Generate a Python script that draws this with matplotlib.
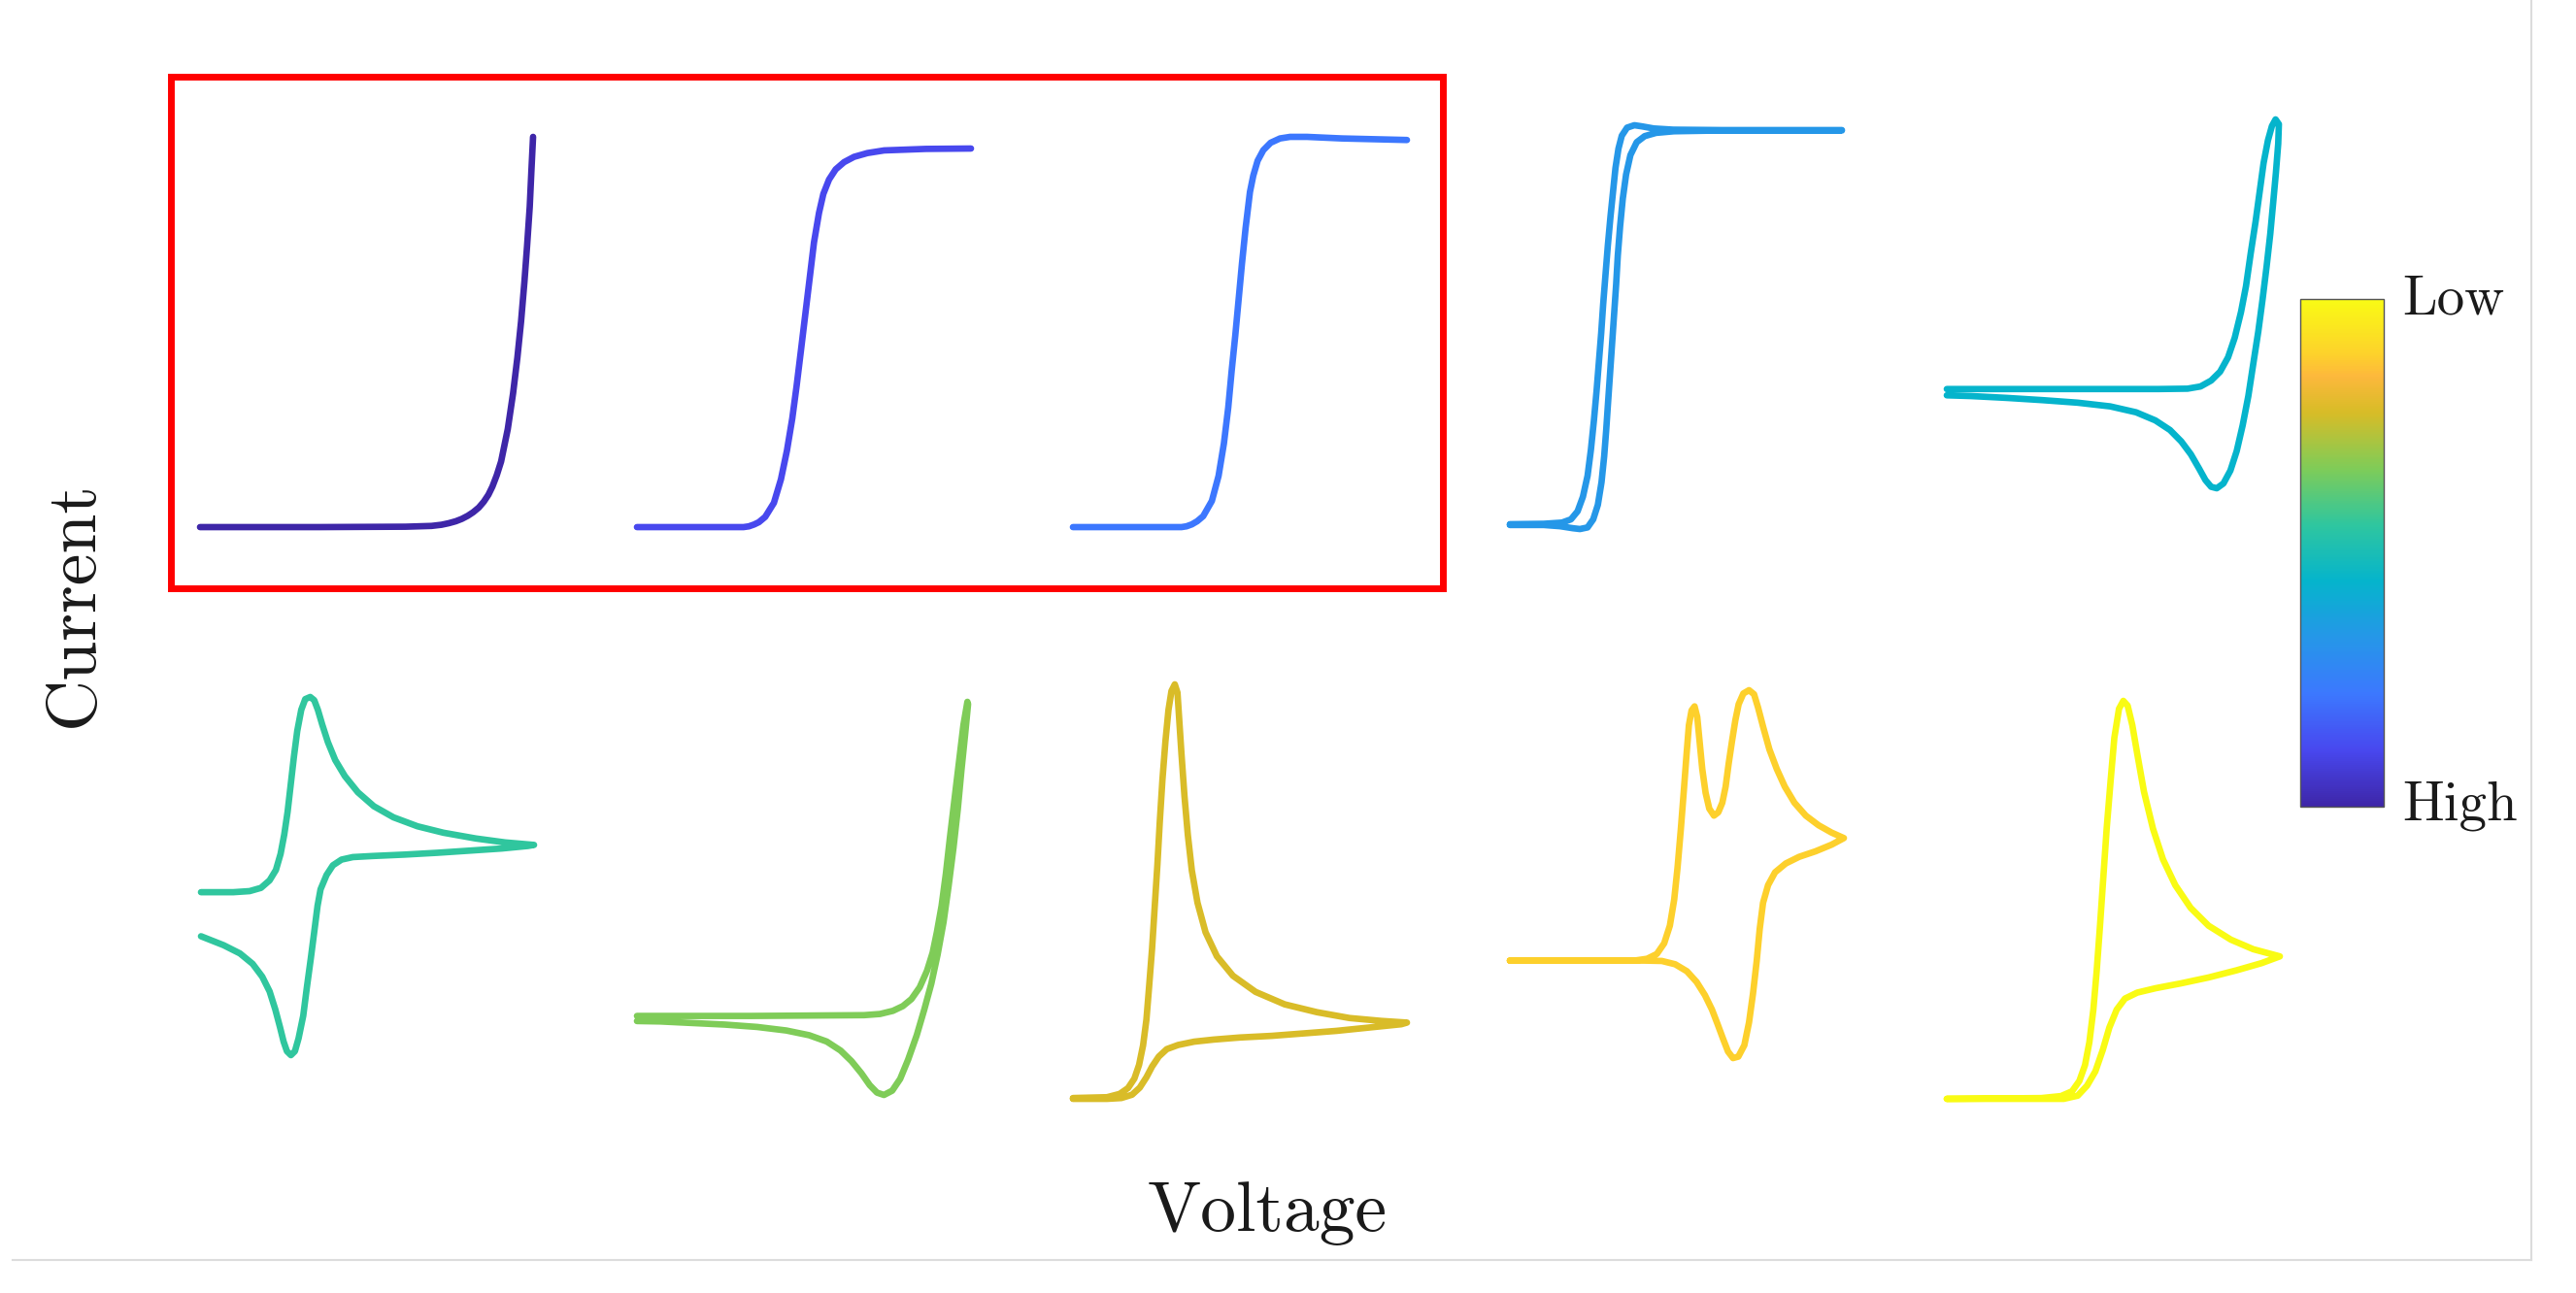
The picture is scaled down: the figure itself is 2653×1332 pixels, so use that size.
import matplotlib.pyplot as plt
from matplotlib.colors import LinearSegmentedColormap
from matplotlib.cm import ScalarMappable
from matplotlib.patches import Rectangle
from matplotlib.lines import Line2D

W, H = 2653, 1332

# parula-like colour map (low index = high rate)
parula_pos = [0.0, 0.111, 0.222, 0.333, 0.444, 0.556, 0.667, 0.778, 0.85, 0.889, 1.0]
parula_hex = ["#3e26a8", "#4848ef", "#3c78fe", "#2597e8", "#05b4cc", "#2fc69f",
              "#7fcc58", "#d8bc27", "#fdb83c", "#fdd02c", "#f9fb14"]

# voltammograms, normalised voltage / current (forward sweep + reverse sweep)
cv1_v = [0, 0.357, 0.617, 0.695, 0.725, 0.747, 0.768, 0.786, 0.804, 0.820, 0.837,
         0.852, 0.866, 0.878, 0.891, 0.904, 0.924, 0.940, 0.953, 0.964, 0.974,
         0.982, 0.990, 0.995, 1.0]
cv1_i = [0, 0, 0.001, 0.003, 0.006, 0.010, 0.015, 0.021, 0.029, 0.038, 0.050,
         0.065, 0.083, 0.104, 0.133, 0.168, 0.251, 0.343, 0.435, 0.527, 0.628,
         0.720, 0.821, 0.913, 1.0]

cv2_v = [0, 0.319, 0.335, 0.351, 0.365, 0.384, 0.410, 0.431, 0.449, 0.465, 0.478,
         0.491, 0.504, 0.517, 0.530, 0.545, 0.558, 0.575, 0.595, 0.620, 0.650,
         0.690, 0.740, 0.865, 1.0]
cv2_i = [0, 0, 0.002, 0.007, 0.013, 0.027, 0.064, 0.126, 0.202, 0.287, 0.373,
         0.467, 0.562, 0.657, 0.752, 0.830, 0.880, 0.918, 0.945, 0.964, 0.978,
         0.988, 0.995, 0.999, 1.0]

cv3_v = [0, 0.325, 0.340, 0.356, 0.372, 0.390, 0.416, 0.436, 0.452, 0.465, 0.475,
         0.486, 0.496, 0.506, 0.517, 0.530, 0.540, 0.553, 0.570, 0.592, 0.620,
         0.650, 0.701, 0.805, 1.0]
cv3_i = [0, 0, 0.002, 0.007, 0.015, 0.028, 0.067, 0.131, 0.214, 0.306, 0.398,
         0.490, 0.582, 0.674, 0.766, 0.858, 0.900, 0.938, 0.965, 0.984, 0.995,
         0.999, 0.999, 0.995, 0.991]

cv4_v = [0, 0.102, 0.151, 0.190, 0.211, 0.234, 0.251, 0.265, 0.276, 0.284, 0.290,
         0.296, 0.302, 0.308, 0.314, 0.320, 0.325, 0.332, 0.340, 0.350, 0.363,
         0.382, 0.406, 0.440, 0.494, 0.638, 1.0] + \
        [1.0, 0.638, 0.492, 0.433, 0.399, 0.375, 0.353, 0.337, 0.327, 0.318, 0.311,
         0.303, 0.295, 0.288, 0.281, 0.275, 0.268, 0.261, 0.253, 0.244, 0.234,
         0.220, 0.204, 0.184, 0.157, 0.102, 0.0]
cv4_i = [0.010, 0.010, 0.007, 0.002, 0.000, 0.004, 0.024, 0.060, 0.116, 0.180, 0.244,
         0.317, 0.389, 0.461, 0.533, 0.605, 0.677, 0.750, 0.818, 0.878, 0.926,
         0.958, 0.973, 0.981, 0.985, 0.987, 0.987] + \
        [0.988, 0.988, 0.989, 0.992, 0.997, 1.000, 0.994, 0.974, 0.942, 0.894, 0.838,
         0.774, 0.702, 0.630, 0.557, 0.485, 0.413, 0.341, 0.268, 0.196, 0.132,
         0.080, 0.044, 0.024, 0.016, 0.013, 0.012]

cv5_v = [0.000, 0.346, 0.638, 0.725, 0.764, 0.796, 0.823, 0.847, 0.867, 0.886, 0.901,
         0.915, 0.930, 0.942, 0.954, 0.967, 0.979, 0.990] + \
        [1.000, 0.998, 0.991, 0.983, 0.974, 0.963, 0.951, 0.938, 0.923, 0.908, 0.891,
         0.873, 0.854, 0.833, 0.813, 0.796, 0.779, 0.760, 0.735, 0.706, 0.672,
         0.628, 0.570, 0.492, 0.394, 0.287, 0.180, 0.073, 0.000]
cv5_i = [0.269, 0.269, 0.269, 0.270, 0.276, 0.292, 0.316, 0.355, 0.408, 0.478, 0.548,
         0.636, 0.724, 0.803, 0.882, 0.943, 0.982, 1.000] + \
        [0.987, 0.934, 0.855, 0.776, 0.689, 0.601, 0.513, 0.425, 0.338, 0.250, 0.171,
         0.101, 0.048, 0.013, 0.000, 0.004, 0.022, 0.053, 0.092, 0.127, 0.158,
         0.184, 0.206, 0.222, 0.232, 0.239, 0.245, 0.250, 0.252]

cv6_v = [0.000, 0.097, 0.146, 0.180, 0.206, 0.225, 0.239, 0.250, 0.260, 0.269, 0.279,
         0.289, 0.301, 0.313, 0.328, 0.340, 0.351, 0.364, 0.381, 0.403, 0.432,
         0.471, 0.519, 0.578, 0.650, 0.728, 0.825, 0.913, 1.000] + \
        [0.981, 0.903, 0.806, 0.709, 0.612, 0.515, 0.456, 0.422, 0.396, 0.377, 0.359,
         0.350, 0.340, 0.330, 0.318, 0.307, 0.293, 0.282, 0.270, 0.258, 0.248,
         0.237, 0.223, 0.206, 0.184, 0.155, 0.117, 0.068, 0.000]
cv6_i = [0.455, 0.455, 0.458, 0.467, 0.488, 0.517, 0.562, 0.616, 0.679, 0.752, 0.833,
         0.905, 0.964, 0.994, 1.000, 0.991, 0.964, 0.923, 0.874, 0.824, 0.779,
         0.734, 0.695, 0.664, 0.639, 0.621, 0.605, 0.594, 0.587] + \
        [0.584, 0.577, 0.571, 0.565, 0.560, 0.556, 0.553, 0.546, 0.530, 0.503, 0.463,
         0.417, 0.344, 0.272, 0.190, 0.110, 0.047, 0.011, 0.000, 0.011, 0.038,
         0.079, 0.128, 0.178, 0.219, 0.255, 0.284, 0.307, 0.332]

cv7_v = [0.000, 0.344, 0.686, 0.734, 0.773, 0.803, 0.829, 0.854, 0.876, 0.893, 0.906,
         0.920, 0.933, 0.945, 0.959, 0.973, 0.986, 0.998] + \
        [1.000, 0.991, 0.980, 0.969, 0.956, 0.941, 0.926, 0.908, 0.889, 0.868, 0.845,
         0.819, 0.795, 0.771, 0.746, 0.725, 0.703, 0.678, 0.648, 0.615, 0.573,
         0.520, 0.451, 0.363, 0.266, 0.168, 0.070, 0.000]
cv7_i = [0.201, 0.201, 0.203, 0.206, 0.214, 0.226, 0.244, 0.274, 0.316, 0.362, 0.415,
         0.481, 0.563, 0.653, 0.752, 0.850, 0.941, 1.000] + \
        [0.994, 0.916, 0.826, 0.727, 0.629, 0.530, 0.440, 0.357, 0.283, 0.218, 0.152,
         0.090, 0.041, 0.011, 0.000, 0.006, 0.025, 0.055, 0.086, 0.113, 0.136,
         0.152, 0.164, 0.173, 0.179, 0.183, 0.187, 0.188]

cv8_v = [0.000, 0.102, 0.140, 0.165, 0.184, 0.198, 0.210, 0.220, 0.228, 0.237, 0.245,
         0.253, 0.260, 0.268, 0.277, 0.286, 0.295, 0.305, 0.313, 0.318, 0.325,
         0.334, 0.344, 0.356, 0.373, 0.397, 0.431, 0.479, 0.547, 0.634, 0.731,
         0.828, 0.924, 1.000] + \
        [0.983, 0.886, 0.789, 0.692, 0.595, 0.499, 0.421, 0.363, 0.315, 0.281, 0.257,
         0.237, 0.220, 0.200, 0.177, 0.145, 0.102, 0.000]
cv8_i = [0.002, 0.004, 0.012, 0.026, 0.049, 0.082, 0.129, 0.191, 0.270, 0.363, 0.465,
         0.566, 0.668, 0.770, 0.863, 0.938, 0.984, 1.000, 0.980, 0.918, 0.832,
         0.730, 0.637, 0.551, 0.473, 0.402, 0.344, 0.297, 0.258, 0.228, 0.209,
         0.195, 0.188, 0.184] + \
        [0.180, 0.172, 0.164, 0.158, 0.152, 0.148, 0.143, 0.138, 0.130, 0.120, 0.102,
         0.078, 0.052, 0.027, 0.010, 0.002, 0.000, 0.000]

cv9_v = [0.000, 0.373, 0.411, 0.440, 0.462, 0.479, 0.492, 0.502, 0.512, 0.521, 0.529,
         0.536, 0.544, 0.553, 0.561, 0.568, 0.576, 0.586, 0.597, 0.611, 0.624,
         0.636, 0.646, 0.655, 0.665, 0.675, 0.685, 0.699, 0.716, 0.731, 0.743,
         0.758, 0.777, 0.799, 0.823, 0.852, 0.886, 0.924, 0.963, 1.000] + \
        [0.963, 0.915, 0.866, 0.826, 0.794, 0.773, 0.758, 0.748, 0.739, 0.728, 0.716,
         0.702, 0.684, 0.668, 0.653, 0.638, 0.622, 0.605, 0.584, 0.559, 0.530,
         0.495, 0.455, 0.402, 0.000]
cv9_i = [0.265, 0.265, 0.270, 0.283, 0.312, 0.360, 0.431, 0.518, 0.624, 0.729, 0.826,
         0.905, 0.945, 0.956, 0.927, 0.861, 0.786, 0.721, 0.678, 0.659, 0.668,
         0.694, 0.738, 0.800, 0.861, 0.918, 0.962, 0.991, 1.000, 0.989, 0.953,
         0.901, 0.839, 0.786, 0.738, 0.694, 0.659, 0.633, 0.613, 0.598] + \
        [0.580, 0.562, 0.547, 0.529, 0.505, 0.470, 0.422, 0.351, 0.264, 0.176, 0.097,
         0.035, 0.004, 0.000, 0.018, 0.053, 0.092, 0.132, 0.171, 0.207, 0.236,
         0.255, 0.264, 0.265, 0.265]

cv10_v = [0.000, 0.284, 0.343, 0.376, 0.398, 0.415, 0.428, 0.440, 0.450, 0.460, 0.470,
          0.480, 0.492, 0.503, 0.517, 0.530, 0.543, 0.557, 0.572, 0.592, 0.619,
          0.649, 0.686, 0.732, 0.786, 0.853, 0.920, 1.000] + \
         [0.945, 0.870, 0.786, 0.702, 0.627, 0.572, 0.535, 0.510, 0.488, 0.468, 0.446,
          0.421, 0.393, 0.351, 0.000]
cv10_i = [0.000, 0.002, 0.007, 0.019, 0.045, 0.085, 0.142, 0.224, 0.321, 0.435, 0.557,
          0.679, 0.801, 0.907, 0.980, 1.000, 0.988, 0.939, 0.866, 0.772, 0.679,
          0.602, 0.537, 0.480, 0.435, 0.400, 0.376, 0.358] + \
         [0.341, 0.323, 0.305, 0.290, 0.278, 0.267, 0.252, 0.224, 0.179, 0.122, 0.069,
          0.033, 0.008, 0.000, 0.000]

curves = [(cv1_v, cv1_i), (cv2_v, cv2_i), (cv3_v, cv3_i), (cv4_v, cv4_i), (cv5_v, cv5_i),
          (cv6_v, cv6_i), (cv7_v, cv7_i), (cv8_v, cv8_i), (cv9_v, cv9_i), (cv10_v, cv10_i)]

# where each little voltammogram sits, in pixels (left, top, right, bottom)
boxes = [(206, 141, 549, 543), (656, 153, 1000, 543), (1105, 141, 1449, 543),
         (1555, 129, 1897, 545), (2005, 123, 2347, 503),
         (207, 718, 550, 1087), (656, 723, 997, 1128), (1105, 705, 1449, 1132),
         (1555, 711, 1899, 1090), (2005, 722, 2348, 1132)]

cmap = LinearSegmentedColormap.from_list("parula", list(zip(parula_pos, parula_hex)))

fig = plt.figure(figsize=(W / 100, H / 100), dpi=100)
fig.patch.set_facecolor("white")


def px_axes(l, t, r, b):
    return fig.add_axes([l / W, 1 - b / H, (r - l) / W, (b - t) / H])


for k, ((v, i), box) in enumerate(zip(curves, boxes)):
    ax = px_axes(*box)
    ax.plot(v, i, color=cmap(k / 9), lw=4.8, clip_on=False,
            solid_capstyle="round", solid_joinstyle="round")
    ax.set_xlim(min(v), max(v))
    ax.set_ylim(min(i), max(i))
    ax.axis("off")

# red box around the first three panels
fig.add_artist(Rectangle((176 / W, 1 - 606 / H), (1486 - 176) / W, (606 - 79) / H,
                         transform=fig.transFigure, fill=False, edgecolor="#ff0000", lw=5))

# colour bar
cax = px_axes(2369, 308, 2455, 831)
cb = fig.colorbar(ScalarMappable(cmap=cmap), cax=cax)
cb.set_ticks([])
cb.outline.set_edgecolor("#555555")
cb.outline.set_linewidth(1.0)

font = "cmr10"
txt = "#1a1a1a"
fig.text(2474 / W, 1 - 323 / H, "Low", fontname=font, fontsize=41, color=txt,
         ha="left", va="baseline")
fig.text(2474 / W, 1 - 845 / H, "High", fontname=font, fontsize=41, color=txt,
         ha="left", va="baseline")
fig.text(1305 / W, 1 - 1268 / H, "Voltage", fontname=font, fontsize=53, color=txt,
         ha="center", va="baseline")
fig.text(95 / W, 1 - 622 / H, "Current", fontname=font, fontsize=53, color=txt,
         ha="center", va="baseline", rotation=90, rotation_mode="anchor")

# faint frame at the bottom and right edge
fig.add_artist(Line2D([13 / W, 2607 / W], [1 - 1298 / H] * 2, color="#dcdcdc", lw=1.5))
fig.add_artist(Line2D([2607 / W] * 2, [1 - 1298 / H, 1.0], color="#dcdcdc", lw=1.5))

fig.savefig("out.png", dpi=100, facecolor="white")
